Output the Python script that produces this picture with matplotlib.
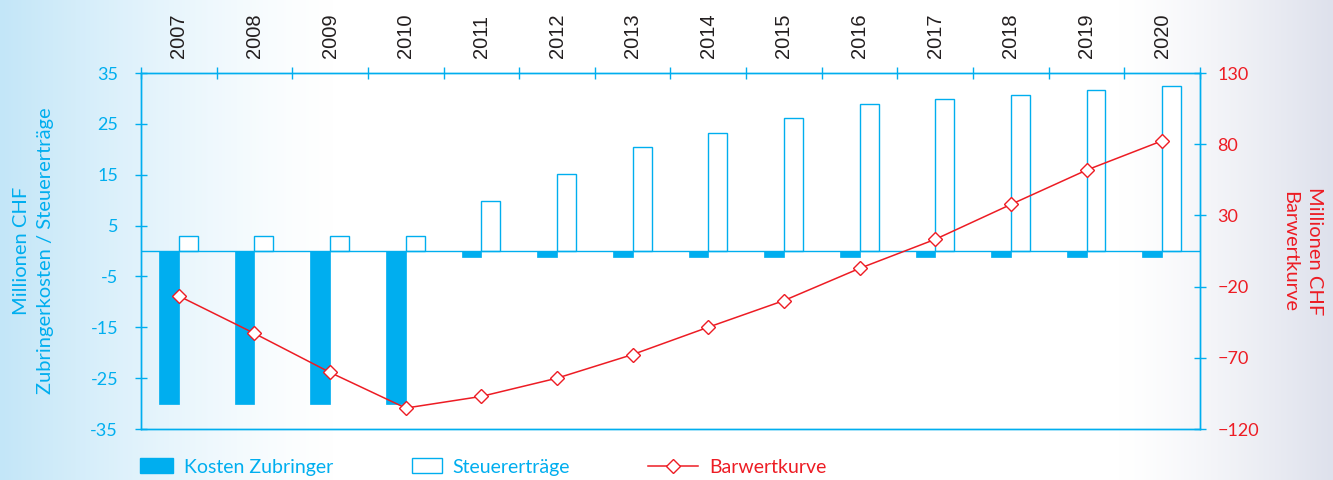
import numpy as np
import matplotlib
matplotlib.use('Agg')
import matplotlib.pyplot as plt
from matplotlib.patches import Patch
from matplotlib.lines import Line2D

# Daten
jahre = ['2007', '2008', '2009', '2010', '2011', '2012', '2013',
         '2014', '2015', '2016', '2017', '2018', '2019', '2020']
kosten_zubringer = [-30, -30, -30, -30, -1.2, -1.2, -1.2,
                    -1.2, -1.2, -1.2, -1.2, -1.2, -1.2, -1.2]
steuerertraege = [3, 3, 3, 3, 9.9, 15.2, 20.5,
                  23.3, 26.1, 28.9, 29.8, 30.7, 31.6, 32.5]
barwertkurve = [-26.6, -52.9, -80.3, -105.3, -97.1, -84.3, -67.7,
                -48.5, -29.8, -7.2, 13.2, 37.7, 61.8, 82.4]

blau = '#00aeef'
rot = '#ed1c24'
text_font = 'Lato'

fig = plt.figure(figsize=(13.33, 4.8), dpi=100)

# Hintergrund mit Verlauf
bg = fig.add_axes([0, 0, 1, 1], zorder=-10)
xs = np.linspace(0, 1, 1333)
links = np.clip(1 - xs / 0.25, 0, 1) ** 1.3
rechts = np.clip((xs - 0.84) / 0.16, 0, 1) ** 1.3
r = 1 - links * (1 - 195 / 255) - rechts * (1 - 222 / 255)
g = 1 - links * (1 - 230 / 255) - rechts * (1 - 225 / 255)
b = 1 - links * (1 - 248 / 255) - rechts * (1 - 236 / 255)
grad = np.stack([r, g, b], axis=-1)[None, :, :]
bg.imshow(grad, aspect='auto', extent=[0, 1, 0, 1])
bg.axis('off')

ax = fig.add_axes([0.1058, 0.10625, 0.7944, 0.74165])
ax.patch.set_alpha(0)
x = np.arange(len(jahre))

ax.bar(x, kosten_zubringer, width=-0.26, align='edge', color=blau,
       edgecolor=blau, linewidth=0.5, zorder=3)
ax.bar(x, steuerertraege, width=0.25, align='edge', facecolor='white',
       edgecolor=blau, linewidth=1.0, zorder=3)
ax.axhline(0, color=blau, linewidth=1.0, zorder=4)

ax.set_xlim(-0.5, len(jahre) - 0.5)
ax.set_ylim(-35, 35)
ax.set_yticks(np.arange(-35, 36, 10))
ax.set_yticklabels([str(v) for v in range(-35, 36, 10)])

for s in ax.spines.values():
    s.set_color(blau)
    s.set_linewidth(1.0)

ax.xaxis.tick_top()
ax.set_xticks(x)
ax.set_xticklabels(jahre, rotation=90, fontsize=14.5, color='#231f20',
                   family='Liberation Sans')
ax.set_xticks(np.arange(-0.5, len(jahre), 1), minor=True)
ax.tick_params(axis='x', which='major', length=0, pad=11)
ax.tick_params(axis='x', which='minor', direction='inout', length=9,
               color=blau, width=1.0)
ax.tick_params(axis='y', direction='inout', length=9, color=blau, width=1.0,
               labelcolor=blau, labelsize=13, pad=12)
for lab in ax.get_yticklabels():
    lab.set_family(text_font)
ax.set_ylabel('Millionen CHF\nZubringerkosten / Steuererträge', color=blau,
              fontsize=14.5, family=text_font, labelpad=26, linespacing=1.55)

ax2 = ax.twinx()
ax2.plot(x, barwertkurve, color=rot, linewidth=1.1, marker='D',
         markersize=7.5, markerfacecolor='white', markeredgecolor=rot,
         markeredgewidth=1.0, zorder=5)
ax2.set_ylim(-120, 130)
ax2.set_yticks(np.arange(-120, 131, 50))
ax2.tick_params(axis='y', direction='inout', length=9, color=blau, width=1.0,
                labelcolor=rot, labelsize=13, pad=8)
for lab in ax2.get_yticklabels():
    lab.set_family(text_font)
for s in ax2.spines.values():
    s.set_color(blau)
    s.set_linewidth(1.0)
ax2.set_ylabel('Millionen CHF\nBarwertkurve', color=rot, fontsize=14.5,
               family=text_font, rotation=270, labelpad=46, linespacing=1.55)

# Legende
leg_kw = dict(frameon=False, loc='center left',
              handletextpad=0.55, borderaxespad=0, borderpad=0,
              prop={'family': text_font, 'size': 14})
l1 = fig.legend([Patch(facecolor=blau, edgecolor=blau)], ['Kosten Zubringer'],
                bbox_to_anchor=(0.105, 0.027), handlelength=1.7,
                handleheight=0.8, **leg_kw)
l2 = fig.legend([Patch(facecolor='white', edgecolor=blau, linewidth=1.0)],
                ['Steuererträge'], bbox_to_anchor=(0.309, 0.027),
                handlelength=1.55, handleheight=0.8, **leg_kw)
l3 = fig.legend([Line2D([0], [0], color=rot, linewidth=1.1, marker='D',
                        markersize=7.5, markerfacecolor='white',
                        markeredgecolor=rot)],
                ['Barwertkurve'], bbox_to_anchor=(0.486, 0.027),
                handlelength=2.6, **leg_kw)
for l in (l1, l2, l3):
    for t in l.get_texts():
        t.set_color(blau if l is not l3 else rot)

fig.savefig('out.png', dpi=100)
